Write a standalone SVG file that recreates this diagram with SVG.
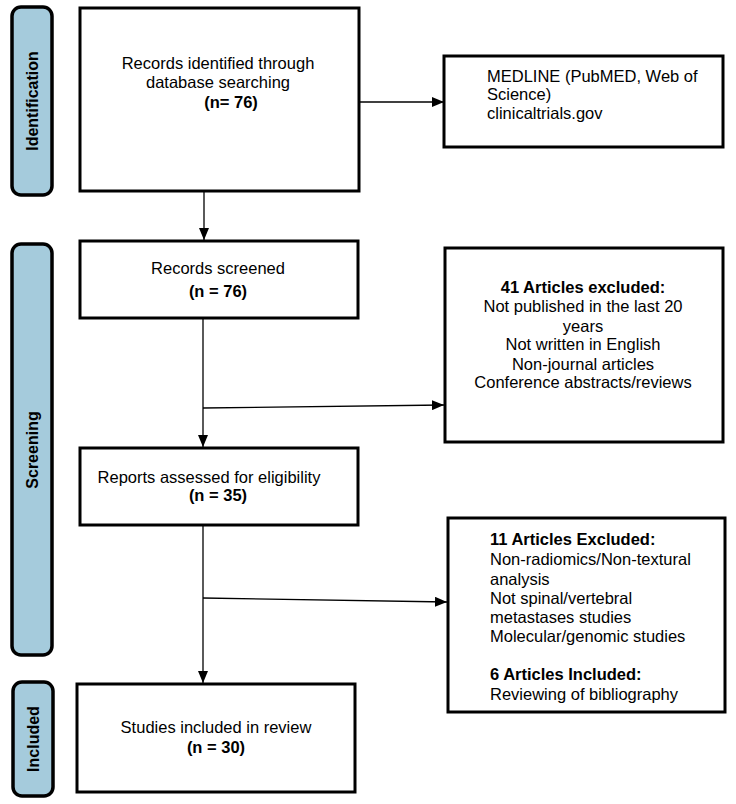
<svg xmlns="http://www.w3.org/2000/svg" width="736" height="804" viewBox="0 0 736 804">
<defs>
<marker id="ah" markerWidth="12" markerHeight="10" refX="12" refY="5" orient="auto" markerUnits="userSpaceOnUse">
<path d="M0,0 L12,5 L0,10 Z" fill="#000"/>
</marker>
</defs>
<style>
.phase{fill:#a5cbdc;stroke:#000;stroke-width:3.5}
.box{fill:#fff;stroke:#000;stroke-width:3}
.t{font-family:"Liberation Sans",Arial,sans-serif;font-size:16.5px;fill:#000}
.b{font-weight:bold}
.lab{font-family:"Liberation Sans",Arial,sans-serif;font-size:16px;font-weight:bold;fill:#000}
.c{fill:none;stroke:#000;stroke-width:1.3}
</style>
<rect width="736" height="804" fill="#fff"/>
<g id="phase-identification">
<rect class="phase" x="12" y="7" width="40" height="188" rx="9"/>
<text class="lab" transform="translate(38,101) rotate(-90)" text-anchor="middle">Identification</text>
</g>
<g id="phase-screening">
<rect class="phase" x="12" y="244" width="40" height="411" rx="9"/>
<text class="lab" transform="translate(38,450) rotate(-90)" text-anchor="middle">Screening</text>
</g>
<g id="phase-included">
<rect class="phase" x="13" y="682" width="40" height="114" rx="9"/>
<text class="lab" transform="translate(39,739) rotate(-90)" text-anchor="middle">Included</text>
</g>
<g id="connectors">
<line class="c" x1="204" y1="192" x2="204" y2="240" marker-end="url(#ah)"/>
<line class="c" x1="359" y1="102" x2="444" y2="102" marker-end="url(#ah)"/>
<line class="c" x1="203" y1="318" x2="203" y2="447" marker-end="url(#ah)"/>
<line class="c" x1="203" y1="408" x2="444" y2="405" marker-end="url(#ah)"/>
<line class="c" x1="203" y1="525" x2="203" y2="683" marker-end="url(#ah)"/>
<line class="c" x1="203" y1="598" x2="447" y2="602" marker-end="url(#ah)"/>
</g>
<g id="records-identified">
<rect class="box" x="80" y="8" width="279" height="183"/>
<text class="t" x="218" y="69" text-anchor="middle">Records identified through</text>
<text class="t" x="218" y="88" text-anchor="middle">database searching</text>
<text class="t b" x="231" y="108" text-anchor="middle">(n= 76)</text>
</g>
<g id="databases">
<rect class="box" x="444" y="56" width="279" height="91"/>
<text class="t" x="487" y="82">MEDLINE (PubMED, Web of</text>
<text class="t" x="487" y="100">Science)</text>
<text class="t" x="487" y="119">clinicaltrials.gov</text>
</g>
<g id="records-screened">
<rect class="box" x="80" y="241" width="278" height="77"/>
<text class="t" x="218" y="274" text-anchor="middle">Records screened</text>
<text class="t b" x="218" y="297" text-anchor="middle">(n = 76)</text>
</g>
<g id="excluded-41">
<rect class="box" x="445" y="248" width="278" height="194"/>
<text class="t b" x="583" y="293" text-anchor="middle">41 Articles excluded:</text>
<text class="t" x="583" y="312" text-anchor="middle">Not published in the last 20</text>
<text class="t" x="583" y="332" text-anchor="middle">years</text>
<text class="t" x="583" y="350" text-anchor="middle">Not written in English</text>
<text class="t" x="583" y="370" text-anchor="middle">Non-journal articles</text>
<text class="t" x="583" y="388" text-anchor="middle">Conference abstracts/reviews</text>
</g>
<g id="reports-assessed">
<rect class="box" x="80" y="448" width="278" height="77"/>
<text class="t" x="209" y="483" text-anchor="middle">Reports assessed for eligibility</text>
<text class="t b" x="218" y="501" text-anchor="middle">(n = 35)</text>
</g>
<g id="excluded-11">
<rect class="box" x="448" y="518" width="277" height="194"/>
<text class="t b" x="490" y="545">11 Articles Excluded:</text>
<text class="t" x="490" y="565">Non-radiomics/Non-textural</text>
<text class="t" x="490" y="585">analysis</text>
<text class="t" x="490" y="604">Not spinal/vertebral</text>
<text class="t" x="490" y="623">metastases studies</text>
<text class="t" x="490" y="642">Molecular/genomic studies</text>
<text class="t b" x="490" y="680">6 Articles Included:</text>
<text class="t" x="490" y="700">Reviewing of bibliography</text>
</g>
<g id="studies-included">
<rect class="box" x="77" y="684" width="278" height="108"/>
<text class="t" x="216" y="733" text-anchor="middle">Studies included in review</text>
<text class="t b" x="216" y="753" text-anchor="middle">(n = 30)</text>
</g>
</svg>
